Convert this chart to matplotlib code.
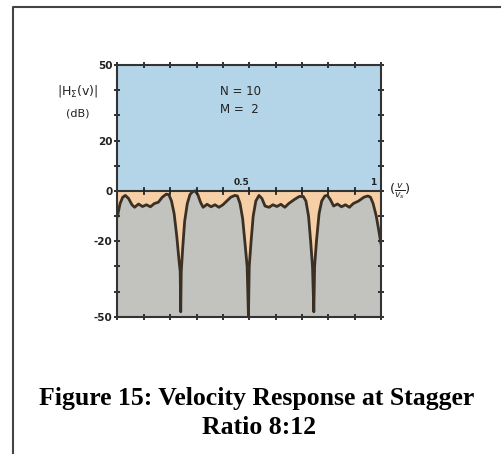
import matplotlib
matplotlib.use("Agg")
from matplotlib import pyplot as plt
from matplotlib.lines import Line2D
import numpy as np

# velocity response |H(v)| in dB against normalised velocity v/vs
freq = [0.000, 0.010, 0.020, 0.030, 0.042, 0.055, 0.065, 0.080, 0.095, 0.110,
        0.125, 0.140, 0.155, 0.170, 0.185, 0.195, 0.205, 0.215, 0.225, 0.233,
        0.238, 0.240, 0.242, 0.248, 0.255, 0.265, 0.275, 0.285, 0.295, 0.305,
        0.315, 0.325, 0.340, 0.355, 0.370, 0.385, 0.400, 0.415, 0.430, 0.445,
        0.455, 0.465, 0.475, 0.485, 0.492, 0.497, 0.500, 0.507, 0.515, 0.525,
        0.537, 0.548, 0.560, 0.575, 0.590, 0.605, 0.620, 0.635, 0.650, 0.670,
        0.690, 0.705, 0.715, 0.725, 0.733, 0.740, 0.745, 0.748, 0.755, 0.765,
        0.775, 0.787, 0.797, 0.808, 0.820, 0.835, 0.850, 0.865, 0.880, 0.895,
        0.915, 0.935, 0.950, 0.960, 0.970, 0.982, 0.992, 1.000]
resp_db = [-10, -5, -2.5, -1.8, -3, -5.5, -6.5, -5.2, -6.2, -5.5,
           -6.3, -5.0, -4.5, -2.5, -1.3, -1.5, -4, -9, -18, -27,
           -32, -48, -32, -22, -12, -5, -1.5, -0.3, 0, -1.5,
           -4.5, -6.5, -5.3, -6.3, -5.5, -6.5, -5.5, -4, -2.5, -1.8,
           -2, -5, -11, -22, -30, -50, -30, -20, -10, -4,
           -1.8, -3, -6, -6.5, -5.5, -6.2, -5.3, -6.5, -5, -3.5,
           -2.2, -2.2, -4, -10, -20, -30, -48, -30, -20, -9,
           -4, -2, -1.8, -3.5, -6, -5.2, -6.3, -5.5, -6.5, -5,
           -4, -2.5, -2.0, -2.5, -5, -10, -16, -21]

ytick_vals = [-50, -20, 0, 20, 50]
xtick_vals = [0.5, 1]

fig = plt.figure(figsize=(5.02, 4.54), dpi=100)
ax = fig.add_axes([0.234, 0.302, 0.525, 0.555])

blue = "#b4d4e8"
peach = "#f7cfa6"
grey = "#c2c3bf"
ink = "#3a3024"

ax.set_facecolor(blue)
ax.fill_between(freq, resp_db, 0, color=peach, lw=0)
ax.fill_between(freq, -50, resp_db, color=grey, lw=0)
ax.plot(freq, resp_db, color=ink, lw=2.0, solid_joinstyle="round")
ax.axhline(0, color="#333333", lw=1.5)

ax.set_xlim(0, 1)
ax.set_ylim(-50, 50)

# minor tick crosses along the frame and the zero line
ax.set_xticks(np.arange(0, 1.01, 0.1))
ax.set_xticklabels([])
ax.set_yticks(np.arange(-50, 51, 10))
ax.set_yticklabels([str(v) if v in ytick_vals else "" for v in range(-50, 51, 10)],
                   fontsize=7.5, fontweight="bold", color="#222222")
ax.tick_params(axis="both", direction="inout", length=5, width=1.3, color="#222222",
               top=True, right=True, pad=1)
for xv in np.arange(0.1, 1.0, 0.1):
    ax.plot([xv, xv], [-1.2, 1.2], color="#222222", lw=1.3)

for sp in ax.spines.values():
    sp.set_linewidth(1.5)
    sp.set_color("#333333")

for xv in xtick_vals:
    ax.text(xv - 0.03, 1.5, str(xv), fontsize=6.5, fontweight="bold",
            ha="center", va="bottom", color="#222222")

ax.text(0.39, 38, "N = 10", fontsize=8.5, color="#222222")
ax.text(0.39, 31, "M =  2", fontsize=8.5, color="#222222")

fig.text(0.155, 0.80, r"|H$_\Sigma$(v)|", fontsize=9, ha="center", va="center",
         color="#222222")
fig.text(0.155, 0.75, "(dB)", fontsize=8, ha="center", va="center", color="#222222")
fig.text(0.775, 0.578, r"$(\frac{v}{v_s})$", fontsize=9.5, ha="left", va="center",
         color="#222222")

# page frame
fig.add_artist(Line2D([0.026, 0.026, 1.0], [0.0, 0.985, 0.985],
                      transform=fig.transFigure, color="#444444", lw=1.5))

fig.text(0.511, 0.123, "Figure 15: Velocity Response at Stagger", fontsize=18.5,
         fontweight="bold", family="Liberation Serif", ha="center", va="center")
fig.text(0.516, 0.059, "Ratio 8:12", fontsize=18.5,
         fontweight="bold", family="Liberation Serif", ha="center", va="center")

fig.savefig("out.png", dpi=100)
